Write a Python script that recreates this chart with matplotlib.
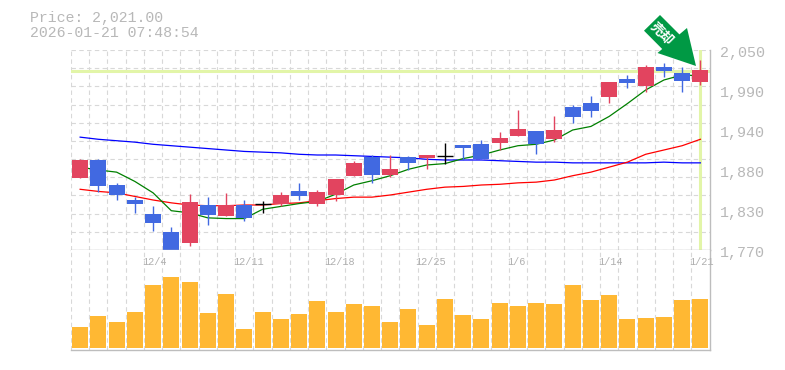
import matplotlib
matplotlib.use("Agg")
import matplotlib.pyplot as plt
from matplotlib.patches import Polygon

plt.rcParams['font.family'] = ['Liberation Mono', 'DejaVu Sans']

# ---- data ----
opens  = [1871,1896,1861,1840,1820,1795,1780,1833,1818,1833,1834,1834,1853,1834,1847,1874,1900,1875,1900,1899,1902,1917,1918,1920,1930,1937,1925,1970,1976,1984,2009,2000,2026,2018,2005]
closes = [1896,1860,1847,1834,1808,1769,1837,1819,1833,1815,1834,1847,1846,1851,1869,1892,1875,1883,1892,1903,1902,1913,1897,1927,1939,1918,1938,1956,1965,2005,2004,2026,2021,2007,2022]
highs  = [1897,1897,1864,1844,1832,1802,1848,1844,1850,1840,1839,1851,1864,1854,1869,1895,1903,1903,1901,1903,1920,1917,1924,1935,1966,1937,1958,1973,1986,2005,2015,2029,2032,2026,2036]
lows   = [1871,1851,1840,1822,1797,1769,1776,1805,1818,1811,1822,1832,1840,1832,1839,1874,1864,1872,1882,1883,1890,1896,1897,1910,1930,1904,1921,1948,1956,1976,1997,1991,2012,1991,2001]
ma_short = [1886,1882,1879,1866,1850,1825,1822,1815,1814,1814,1827,1831,1835,1838,1848,1861,1867,1874,1883,1889,1891,1898,1903,1910,1916,1918,1924,1938,1943,1957,1975,1994,2008,2015,2014]
ma_mid   = [1855,1852,1850,1845,1840,1836,1833,1832,1832,1833,1833,1835,1836,1839,1842,1844,1844,1847,1851,1855,1858,1859,1861,1862,1864,1865,1868,1874,1879,1886,1893,1904,1910,1916,1925]
ma_long  = [1928,1925,1923,1921,1918,1916,1914,1912,1910,1908,1907,1906,1904,1903,1903,1902,1901,1900,1899,1897,1896,1896,1896,1895,1894,1893,1893,1892,1892,1892,1892,1892,1893,1892,1892]
volumes  = [21,32,26,36,63,71,66,35,54,19,36,29,34,47,36,44,42,26,39,23,49,33,29,45,42,45,44,63,48,53,29,30,31,48,49]
date_ticks  = [4,9,14,19,24,29,34]
date_labels = ['12/4','12/11','12/18','12/25','1/6','1/14','1/21']
price_ticks  = [2050,1994,1938,1882,1826,1770]
price_labels = ['2,050','1,990','1,940','1,880','1,830','1,770']
last_price = 2021
header = ['Price: 2,021.00', '2026-01-21 07:48:54']

W, H = 785, 370
RED, BLUE, BLACK = '#E2445F', '#4169E1', '#000000'
GRID, TXT, MARK = '#D8D8D8', '#B8B8B8', '#E2F5A8'
n = len(opens)

fig = plt.figure(figsize=(W/100, H/100), dpi=100, facecolor='white')
def axes_px(x0, y0, x1, y1):
    return fig.add_axes([x0/W, 1-y1/H, (x1-x0)/W, (y1-y0)/H])
ax = axes_px(71, 50, 709.5, 250)
av = axes_px(71, 250, 709.5, 350)

edges = [i-0.5 for i in range(n)]
for a in (ax, av):
    a.set_xlim(-0.5, n-0.5)
    a.set_xticks(edges, minor=False)
    a.set_xticklabels([])
    a.tick_params(length=0, labelleft=False, labelbottom=False)
    a.grid(True, axis='x', color=GRID, lw=0.8, ls=(0,(4,3)), zorder=0)
    a.set_axisbelow(True)
    for s in ('top','left'):
        a.spines[s].set_visible(False)
    for s in ('right','bottom'):
        a.spines[s].set_color('#BDBDBD'); a.spines[s].set_linewidth(1.0)

ax.set_ylim(1770, 2050)
ygrid = [1770 + 280*k/11 for k in range(12)]
ax.set_yticks(ygrid)
ax.grid(True, axis='y', color=GRID, lw=0.8, ls=(0,(4,3)), zorder=0)
for sp in ax.spines.values():
    sp.set_zorder(6)

# last-price cross marker
ax.axhline(last_price, color=MARK, lw=2.2, zorder=1)
ax.axvline(n-1, color=MARK, lw=2.2, zorder=1)

# moving averages
x = list(range(n))
ax.plot(x, ma_long, color='#0000FF', lw=0.9, zorder=2)
ax.plot(x, ma_mid, color='#FF0000', lw=0.9, zorder=2)
ax.plot(x, ma_short, color='#008000', lw=0.9, zorder=2)

# candles
for i in x:
    o, c, h, l = opens[i], closes[i], highs[i], lows[i]
    col = BLACK if o == c else (RED if c > o else BLUE)
    ax.vlines(i, l, h, color=col, lw=1.0, zorder=3)
    if o == c:
        ax.hlines(o, i-0.44, i+0.44, color=col, lw=1.0, zorder=3)
    else:
        ax.bar(i, abs(c-o), bottom=min(o, c), width=0.877, color=col, lw=0, zorder=3)

# price labels
for v, s in zip(price_ticks, price_labels):
    ax.annotate(s, xy=(1, v), xycoords=('axes fraction', 'data'), xytext=(10.5, -3.5),
                textcoords='offset pixels', color=TXT, fontsize=10.8, ha='left',
                va='center', annotation_clip=False)

# volume
av.set_ylim(-2, 98)
av.set_yticks([])
av.bar(x, volumes, width=0.877, color='#FFB833', lw=0, zorder=3)
for i, s in zip(date_ticks, date_labels):
    av.annotate(s, xy=(i-0.5, 1), xycoords=('data', 'axes fraction'), xytext=(-2, -12),
                textcoords='offset pixels', color='#B0B0B0', fontsize=7.4, ha='left',
                va='center', annotation_clip=False, zorder=5)

# header
for y, s in zip((18, 33), header):
    fig.text(30/W, 1-y/H, s, color=TXT, fontsize=10.7, ha='left', va='center')

# badge arrow (figure pixels)
pts = [(660,15),(679.4,34.4),(687,28),(696,66),(657.5,53),(662.2,49),(644,30.7)]
fig.add_artist(Polygon([(px/W, 1-py/H) for px, py in pts], closed=True, transform=fig.transFigure,
                       facecolor='#009944', edgecolor='none', zorder=10))
fig.text(662/W, 1-34/H, '売却', color='white', fontsize=9.5, fontweight='bold',
         family=['Noto Sans CJK JP', 'DejaVu Sans'], rotation=-45, rotation_mode='anchor',
         ha='center', va='center', zorder=11)

fig.savefig('out.png', dpi=100, facecolor='white')
